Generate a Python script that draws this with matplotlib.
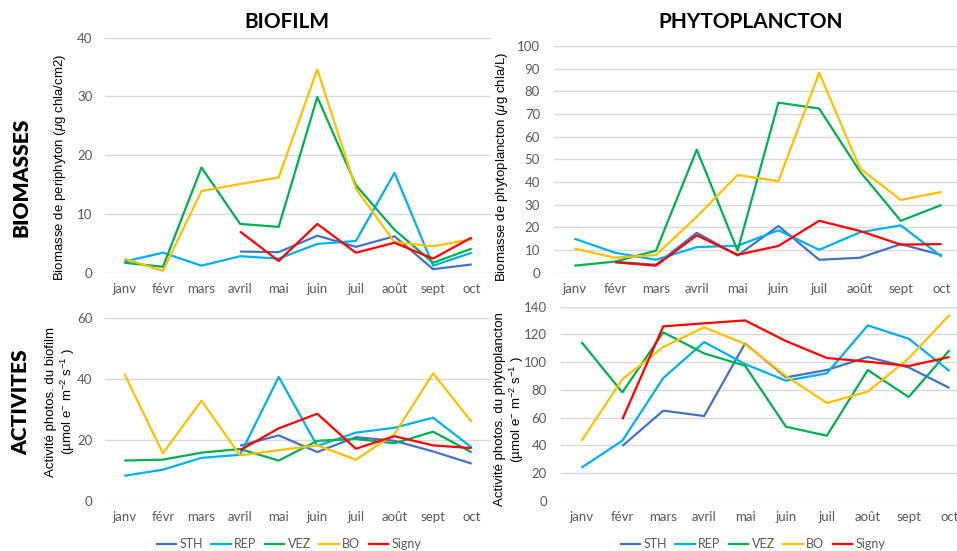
import numpy as np
import matplotlib
matplotlib.use("Agg")
import matplotlib.pyplot as plt

plt.rcParams["font.family"] = ["Lato", "DejaVu Sans"]
plt.rcParams["mathtext.fontset"] = "custom"
plt.rcParams["mathtext.rm"] = "Liberation Sans"
plt.rcParams["mathtext.it"] = "Liberation Sans:italic"

months = ["janv", "févr", "mars", "avril", "mai", "juin", "juil", "août", "sept", "oct"]
stations = ["STH", "REP", "VEZ", "BO", "Signy"]
colors = ["#4472C4", "#00B0F0", "#00B050", "#FFC000", "#FF0000"]
N = None

# biomasse biofilm (µg chla/cm2)
biofilm_biomass = {
    "STH":   [N, N, N, 3.6, 3.5, 6.3, 4.4, 6.2, 0.6, 1.4],
    "REP":   [1.9, 3.4, 1.2, 2.8, 2.4, 4.9, 5.4, 17.0, 1.2, 3.4],
    "VEZ":   [1.7, 1.0, 17.9, 8.3, 7.8, 29.9, 14.9, 7.3, 1.7, 4.1],
    "BO":    [2.4, 0.3, 13.9, 15.1, 16.2, 34.6, 14.3, 5.2, 4.5, 5.7],
    "Signy": [N, N, N, 7.0, 2.0, 8.3, 3.4, 5.1, 2.4, 6.0],
}
# biomasse phytoplancton (µg chla/L)
phyto_biomass = {
    "STH":   [N, 4.8, 3.5, 17.6, 7.6, 20.6, 5.7, 6.6, 12.6, 7.8],
    "REP":   [15.0, 8.8, 5.7, 11.3, 11.9, 18.7, 10.1, 17.8, 20.9, 7.1],
    "VEZ":   [3.1, 4.9, 9.7, 54.3, 9.7, 75.0, 72.4, 44.6, 22.9, 29.9],
    "BO":    [10.6, 6.6, 7.8, 24.7, 43.1, 40.4, 88.2, 46.0, 32.1, 35.6],
    "Signy": [N, 4.6, 3.1, 16.5, 7.9, 11.8, 22.9, 18.4, 12.4, 12.6],
}
# activite photosynthetique biofilm
biofilm_activity = {
    "STH":   [N, N, N, 18.1, 21.5, 16.0, 20.9, 19.7, 16.2, 12.2],
    "REP":   [8.2, 10.2, 14.1, 15.1, 40.7, 18.0, 22.4, 24.0, 27.3, 17.5],
    "VEZ":   [13.2, 13.5, 15.8, 17.0, 13.2, 19.7, 20.3, 18.9, 22.7, 15.9],
    "BO":    [41.8, 15.6, 32.9, 14.9, 16.6, 18.2, 13.5, 21.9, 41.9, 25.9],
    "Signy": [N, N, N, 16.6, 23.8, 28.6, 17.1, 21.2, 18.2, 17.3],
}
# activite photosynthetique phytoplancton
phyto_activity = {
    "STH":   [N, 39.5, 65.0, 61.1, 113.5, 89.0, 94.3, 103.7, 96.2, 81.3],
    "REP":   [23.8, 43.3, 88.5, 114.5, 98.6, 86.6, 91.9, 126.5, 116.9, 93.6],
    "VEZ":   [114.5, 78.2, 121.5, 106.3, 97.4, 53.4, 46.9, 94.3, 74.8, 108.7],
    "BO":    [43.1, 87.6, 110.9, 125.1, 113.1, 90.0, 70.5, 78.7, 102.7, 134.0],
    "Signy": [N, 58.7, 125.8, 128.0, 130.1, 115.2, 103.0, 100.3, 97.2, 103.7],
}

W, H = 957, 551
fig = plt.figure(figsize=(W / 100, H / 100), dpi=100)


def px_axes(x0, x1, ytop, ybot):
    return fig.add_axes([x0 / W, 1 - ybot / H, (x1 - x0) / W, (ybot - ytop) / H])


grey = "#595959"


def draw_panel(ax, data, ymax, step, pad):
    x = np.arange(len(months))
    handles = []
    for st, c in zip(stations, colors):
        y = np.array([np.nan if v is None else v for v in data[st]], dtype=float)
        h, = ax.plot(x, y, color=c, lw=1.6, label=st, solid_capstyle="butt")
        handles.append(h)
    ax.set_xlim(-0.5, len(months) - 0.5)
    ax.set_ylim(0, ymax)
    ax.set_yticks(np.arange(0, ymax + 1, step))
    ax.set_xticks(x)
    ax.set_xticklabels(months)
    ax.grid(axis="y", color="#D9D9D9", lw=1)
    ax.set_axisbelow(True)
    for s in ax.spines.values():
        s.set_visible(False)
    ax.tick_params(length=0, labelsize=9.5, labelcolor=grey)
    ax.tick_params(axis="y", pad=pad)
    ax.tick_params(axis="x", pad=7.5)
    return handles


ax1 = px_axes(105, 491, 37.7, 272.7)
draw_panel(ax1, biofilm_biomass, 40, 10, 9)
ax2 = px_axes(554, 962, 46, 272.7)
draw_panel(ax2, phyto_biomass, 100, 10, 10)
ax3 = px_axes(105, 491, 318.3, 500.7)
h_left = draw_panel(ax3, biofilm_activity, 60, 20, 9)
ax4 = px_axes(561, 970, 306.7, 500.7)
h_right = draw_panel(ax4, phyto_activity, 140, 20, 10)

# titres
fig.text(287 / W, 1 - 22 / H, "BIOFILM", ha="center", va="center",
         fontsize=15, fontweight="bold")
fig.text(751 / W, 1 - 22 / H, "PHYTOPLANCTON", ha="center", va="center",
         fontsize=15, fontweight="bold")
fig.text(21 / W, 1 - 177 / H, "BIOMASSES", rotation=90, ha="center", va="center",
         fontsize=15, fontweight="heavy")
fig.text(21 / W, 1 - 402 / H, "ACTIVITES", rotation=90, ha="center", va="center",
         fontsize=15, fontweight="heavy")

arial = ["Liberation Sans", "DejaVu Sans"]
fig.text(60 / W, 1 - 167.5 / H, r"Biomasse de periphyton ($\mu$g chla/cm2)",
         rotation=90, ha="center", va="center", fontsize=9.5, family=arial)
fig.text(502 / W, 1 - 166.5 / H, r"Biomasse de phytoplancton ($\mu$g chla/L)",
         rotation=90, ha="center", va="center", fontsize=9.5, family=arial)
fig.text(61 / W, 1 - 402 / H,
         "Activité photos. du biofilm\n(µmol e$^{-}$ m$^{-2}$ s$^{-1}$ )",
         rotation=90, ha="center", va="center", fontsize=9.5, family=arial,
         multialignment="center")
fig.text(510 / W, 1 - 409.5 / H,
         "Activité photos. du phytoplancton\n(µmol e$^{-}$ m$^{-2}$ s$^{-1}$ )",
         rotation=90, ha="center", va="center", fontsize=9.5, family=arial,
         multialignment="center")

leg_kw = dict(loc="center", ncol=5, frameon=False, fontsize=9,
              handlelength=1.7, handletextpad=0.2, columnspacing=0.6,
              labelcolor=grey)
fig.legend(h_left, stations, bbox_to_anchor=(288.5 / W, 1 - 544.5 / H), **leg_kw)
fig.legend(h_right, stations, bbox_to_anchor=(752.5 / W, 1 - 544.5 / H), **leg_kw)

fig.savefig("out.png", dpi=100)
